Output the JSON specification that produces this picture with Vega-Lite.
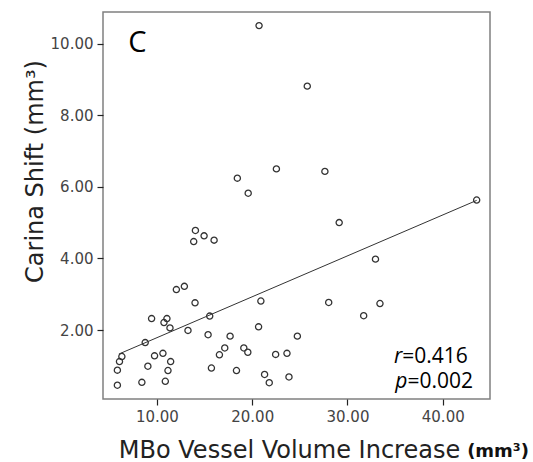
{
  "$schema": "https://vega.github.io/schema/vega-lite/v6.json",
  "width": 387,
  "height": 387,
  "autosize": "none",
  "padding": {"left": 103, "top": 12, "right": 43, "bottom": 63},
  "background": "white",
  "config": {
    "view": {"stroke": "#808080", "strokeWidth": 1.5},
    "axis": {
      "grid": false,
      "domain": false,
      "tickColor": "#222",
      "tickSize": 6,
      "tickWidth": 1.2,
      "labelFont": "DejaVu Sans",
      "labelFontSize": 15,
      "labelColor": "#444",
      "titleFont": "DejaVu Sans",
      "titleFontSize": 24,
      "titleFontWeight": "normal",
      "titleColor": "#222"
    }
  },
  "datasets": {
    "points": [
      {"x": 20.72, "y": 10.50}, {"x": 25.78, "y": 8.81}, {"x": 22.54, "y": 6.50},
      {"x": 27.63, "y": 6.43}, {"x": 18.44, "y": 6.24}, {"x": 19.58, "y": 5.82},
      {"x": 43.56, "y": 5.63}, {"x": 29.13, "y": 5.00}, {"x": 32.94, "y": 3.98},
      {"x": 28.03, "y": 2.77}, {"x": 33.41, "y": 2.74}, {"x": 31.70, "y": 2.40},
      {"x": 14.04, "y": 4.78}, {"x": 14.95, "y": 4.63}, {"x": 16.00, "y": 4.51},
      {"x": 13.86, "y": 4.47}, {"x": 12.04, "y": 3.13}, {"x": 12.88, "y": 3.22},
      {"x": 14.00, "y": 2.76}, {"x": 9.44, "y": 2.32}, {"x": 10.74, "y": 2.21},
      {"x": 11.05, "y": 2.32}, {"x": 11.37, "y": 2.06}, {"x": 13.26, "y": 1.99},
      {"x": 15.54, "y": 2.39}, {"x": 15.37, "y": 1.87}, {"x": 17.68, "y": 1.83},
      {"x": 20.91, "y": 2.81}, {"x": 20.67, "y": 2.09}, {"x": 24.74, "y": 1.83},
      {"x": 8.77, "y": 1.65}, {"x": 6.32, "y": 1.26}, {"x": 6.07, "y": 1.12},
      {"x": 5.85, "y": 0.88}, {"x": 5.85, "y": 0.46}, {"x": 8.42, "y": 0.54},
      {"x": 10.88, "y": 0.57}, {"x": 11.16, "y": 0.87}, {"x": 11.44, "y": 1.12},
      {"x": 10.63, "y": 1.35}, {"x": 9.75, "y": 1.28}, {"x": 9.05, "y": 0.99},
      {"x": 15.72, "y": 0.94}, {"x": 16.56, "y": 1.31}, {"x": 17.12, "y": 1.50},
      {"x": 19.12, "y": 1.50}, {"x": 19.54, "y": 1.38}, {"x": 18.35, "y": 0.87},
      {"x": 22.46, "y": 1.32}, {"x": 23.65, "y": 1.35}, {"x": 21.30, "y": 0.76},
      {"x": 21.79, "y": 0.53}, {"x": 23.86, "y": 0.69}
    ],
    "fit": [{"x": 6.0, "y": 1.33}, {"x": 43.56, "y": 5.62}],
    "notes": [
      {"t": "C", "kind": "panel"},
      {"t": "r", "kind": "r_sym"},
      {"t": "=0.416", "kind": "r_val"},
      {"t": "p", "kind": "p_sym"},
      {"t": "=0.002", "kind": "p_val"},
      {"t": "(mm³)", "kind": "unit"}
    ]
  },
  "layer": [
    {
      "data": {"name": "points"},
      "mark": {"type": "point", "shape": "circle", "filled": false, "stroke": "#333", "strokeWidth": 1.3, "size": 38, "opacity": 1},
      "encoding": {
        "x": {
          "field": "x", "type": "quantitative",
          "scale": {"domain": [4.34, 44.96], "nice": false, "zero": false},
          "axis": {
            "values": [10, 20, 30, 40], "format": ".2f", "labelPadding": 4,
            "title": "MBo Vessel Volume Increase",
            "titleX": 186, "titleY": 58, "titleAlign": "center", "titleBaseline": "alphabetic"
          }
        },
        "y": {
          "field": "y", "type": "quantitative",
          "scale": {"domain": [0.075, 10.88], "nice": false, "zero": false},
          "axis": {
            "values": [2, 4, 6, 8, 10], "format": ".2f", "labelPadding": 4,
            "title": "Carina Shift (mm³)",
            "titleX": -61, "titleY": 159, "titleAngle": -90, "titleAlign": "center", "titleBaseline": "alphabetic"
          }
        }
      }
    },
    {
      "data": {"name": "fit"},
      "mark": {"type": "line", "color": "#333", "strokeWidth": 1},
      "encoding": {
        "x": {"field": "x", "type": "quantitative"},
        "y": {"field": "y", "type": "quantitative"}
      }
    },
    {
      "data": {"name": "notes"},
      "transform": [{"filter": "datum.kind === 'unit'"}],
      "mark": {"type": "text", "font": "DejaVu Sans", "fontSize": 18, "fontWeight": "bold", "fill": "#111", "align": "left", "baseline": "alphabetic"},
      "encoding": {"x": {"datum": 42.56, "type": "quantitative"}, "y": {"datum": -1.54, "type": "quantitative"}, "text": {"field": "t", "type": "nominal"}}
    },
    {
      "data": {"name": "notes"},
      "transform": [{"filter": "datum.kind === 'panel'"}],
      "mark": {"type": "text", "font": "Open Sans", "fontSize": 29, "fill": "#000", "align": "left", "baseline": "alphabetic"},
      "encoding": {"x": {"datum": 7.0, "type": "quantitative"}, "y": {"datum": 9.76, "type": "quantitative"}, "text": {"field": "t", "type": "nominal"}}
    },
    {
      "data": {"name": "notes"},
      "transform": [{"filter": "datum.kind === 'r_sym'"}],
      "mark": {"type": "text", "font": "Open Sans", "fontSize": 21, "fontStyle": "italic", "fill": "#000", "align": "right", "baseline": "alphabetic"},
      "encoding": {"x": {"datum": 35.75, "type": "quantitative"}, "y": {"datum": 1.08, "type": "quantitative"}, "text": {"field": "t", "type": "nominal"}}
    },
    {
      "data": {"name": "notes"},
      "transform": [{"filter": "datum.kind === 'r_val'"}],
      "mark": {"type": "text", "font": "Open Sans", "fontSize": 21, "fill": "#000", "align": "left", "baseline": "alphabetic"},
      "encoding": {"x": {"datum": 35.75, "type": "quantitative"}, "y": {"datum": 1.08, "type": "quantitative"}, "text": {"field": "t", "type": "nominal"}}
    },
    {
      "data": {"name": "notes"},
      "transform": [{"filter": "datum.kind === 'p_sym'"}],
      "mark": {"type": "text", "font": "Open Sans", "fontSize": 21, "fontStyle": "italic", "fill": "#000", "align": "right", "baseline": "alphabetic"},
      "encoding": {"x": {"datum": 36.3, "type": "quantitative"}, "y": {"datum": 0.38, "type": "quantitative"}, "text": {"field": "t", "type": "nominal"}}
    },
    {
      "data": {"name": "notes"},
      "transform": [{"filter": "datum.kind === 'p_val'"}],
      "mark": {"type": "text", "font": "Open Sans", "fontSize": 21, "fill": "#000", "align": "left", "baseline": "alphabetic"},
      "encoding": {"x": {"datum": 36.3, "type": "quantitative"}, "y": {"datum": 0.38, "type": "quantitative"}, "text": {"field": "t", "type": "nominal"}}
    }
  ]
}
